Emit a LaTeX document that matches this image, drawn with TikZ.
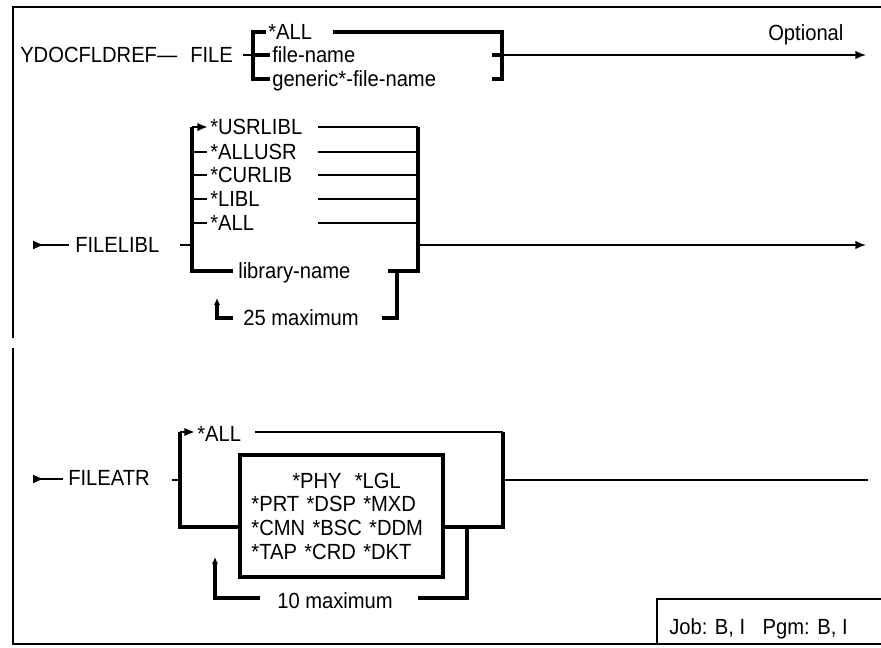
\documentclass[tikz,border=0pt]{standalone}
\usepackage{fontspec}
\setmainfont[FakeStretch=0.92]{Liberation Sans}
\usetikzlibrary{arrows.meta,positioning}

\begin{document}
\begin{tikzpicture}[x=0.025cm,y=-0.025cm,
    every node/.style={font=\fontsize{15.6}{16.8}\selectfont,inner sep=0pt},
    lbl/.style={anchor=west,text height=11.2pt,text depth=0pt},
    thin/.style={line width=1.1pt},
    rail/.style={line width=1.5pt},
    bar/.style={line width=2.2pt},
    tip/.style={-{Latex[length=7.5pt,width=6pt]}},
    lead/.style={{Latex[reversed,length=8pt,width=6.5pt]}-},
    uptip/.style={-{Latex[length=5pt,width=4.5pt]}}]
    \useasboundingbox (0,0) rectangle (881,647);

    % frame
    \draw[thin] (881,7) -- (13,7) -- (13,338);
    \draw[thin] (13,348) -- (13,644) -- (881,644);
    \draw[thin] (657,644) -- (657,599) -- (881,599);
    \node[lbl] (usage) at (669,627) {Job: B, I\hspace{0.8em}Pgm: B, I};

    % FILE
    \node[lbl] (cmd) at (20,55) {YDOCFLDREF—};
    \node[lbl] (file) at (190,55) {FILE};
    \node[lbl] (optional) at (768,33) {Optional};
    \draw[rail] (243,55) -- (253,55);
    \draw[bar] (266,32) -- (253,32) -- (253,79) -- (270,79);
    \draw[bar] (253,55) -- (270,55);
    \node[lbl] (fall) at (268,32) {*ALL};
    \node[lbl] (fname) at (272,55) {file-name};
    \node[lbl] (gname) at (272,79) {generic*-file-name};
    \draw[bar] (333,32) -- (502,32) -- (502,79) -- (492,79);
    \draw[bar] (492,55) -- (502,55);
    \draw[thin,tip] (502,55) -- (866,55);

    % FILELIBL
    \draw[rail,lead] (33,245) -- (69,245);
    \node[lbl] (flib) at (75,245) {FILELIBL};
    \draw[rail] (180,245) -- (192,245);
    \draw[bar] (192,127) -- (192,271) -- (233,271);
    \draw[rail,tip] (192,127) -- (208,127);
    \foreach \y/\t/\n in {127/*USRLIBL/usrlibl,152/*ALLUSR/allusr,175/*CURLIB/curlib,199/*LIBL/libl,223/*ALL/lall} {
      \node[lbl] (\n) at (210,\y) {\t};
      \draw[rail] (318,\y) -- (418,\y);
    }
    \foreach \y in {152,175,199,223}
      \draw[rail] (192,\y) -- (207,\y);
    \node[lbl] (libname) at (238,271) {library-name};
    \draw[bar] (418,127) -- (418,271) -- (388,271);
    \draw[thin,tip] (418,245) -- (866,245);
    \draw[bar] (397,271) -- (397,318) -- (382,318);
    \node[lbl] (lmax) at (243,318) {25 maximum};
    \draw[bar,uptip] (233,318) -- (217,318) -- (217,298);

    % FILEATR
    \draw[rail,lead] (33,479) -- (63,479);
    \node[lbl] (fattr) at (68,478) {FILEATR};
    \draw[rail] (172,480) -- (180,480);
    \node[draw,bar,minimum width=5.075cm,minimum height=3.05cm,
          text width=4.5cm,align=left] (ftypes) at (341.5,516)
      {\hspace{1.02cm}*PHY\hspace{0.6em}*LGL\\{}*PRT *DSP *MXD\\{}*CMN *BSC *DDM\\{}*TAP *CRD *DKT};
    \draw[bar] (180,432) -- (180,527) -- (ftypes.west |- 0,527);
    \draw[rail,tip] (180,432) -- (195,432);
    \node[lbl] (aall) at (197,434) {*ALL};
    \draw[rail] (255,432) -- (503,432);
    \draw[bar] (503,432) -- (503,527) -- (ftypes.east |- 0,527);
    \draw[bar] (467,527) -- (467,598) -- (418,598);
    \node[lbl] (amax) at (277,601) {10 maximum};
    \draw[bar,uptip] (260,598) -- (215,598) -- (215,557);
    \draw[thin] (503,480) -- (868,480);
\end{tikzpicture}
\end{document}
